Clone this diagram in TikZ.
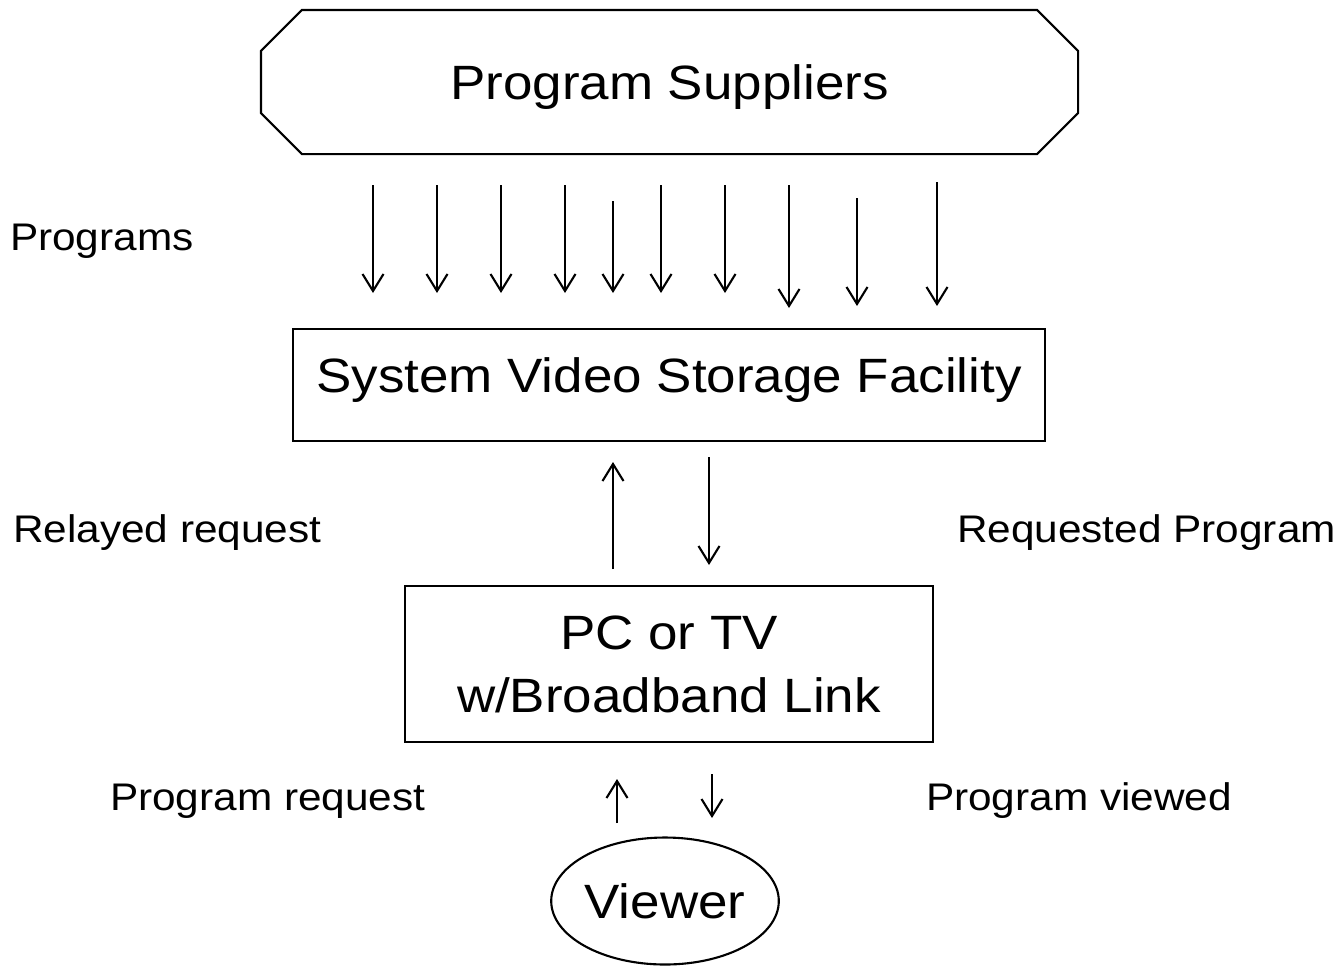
\documentclass[tikz,border=0pt]{standalone}
\usepackage{fontspec}
\setmainfont{Liberation Sans}[FakeStretch=1.1]
\usetikzlibrary{arrows.meta,shapes.geometric}

\begin{document}
\begin{tikzpicture}[line width=0.6pt,
  arr/.style={-{Straight Barb[length=1.7mm,width=2.1mm]}},
  bigtext/.style={font=\fontsize{13.7}{17.9}\selectfont},
  lbl/.style={font=\fontsize{10.95}{13}\selectfont, anchor=base west, inner sep=0}]
\useasboundingbox (0,0) rectangle (13.43,9.66);

\node[bigtext, minimum width=8.15cm, minimum height=1.42cm, text depth=0pt] (supp) at (6.695,8.84) {Program Suppliers};
\draw ([xshift=0.41cm]supp.north west) -- ([xshift=-0.41cm]supp.north east)
  -- ([yshift=-0.41cm]supp.north east) -- ([yshift=0.41cm]supp.south east)
  -- ([xshift=-0.41cm]supp.south east) -- ([xshift=0.41cm]supp.south west)
  -- ([yshift=0.41cm]supp.south west) -- ([yshift=-0.41cm]supp.north west) -- cycle;

\node[draw, bigtext, text height=0.35cm, text depth=0.21cm, minimum width=7.52cm, minimum height=1.12cm] (svsf) at (6.69,5.81) {System Video Storage Facility};
\node[draw, bigtext, align=center, minimum width=5.28cm, minimum height=1.56cm] (pc) at (6.69,3.02) {PC or TV\\w/Broadband Link};
\node[draw, ellipse, bigtext, inner sep=0, minimum width=2.24cm, minimum height=1.27cm] (viewer) at (6.65,0.65) {Viewer};

\node[lbl] (progs) at (0.09,7.16) {Programs};
\node[lbl] (relay) at (0.12,4.24) {Relayed request};
\node[lbl] (reqprog) at (9.56,4.24) {Requested Program};
\node[lbl] (progreq) at (1.09,1.56) {Program request};
\node[lbl] (viewed) at (9.25,1.56) {Program viewed};

% programs coming down from the suppliers
\foreach \x/\a/\b [count=\i] in {3.73/7.81/6.73, 4.37/7.81/6.73, 5.01/7.81/6.73,
    5.65/7.81/6.73, 6.13/7.65/6.73, 6.61/7.81/6.73, 7.25/7.81/6.73,
    7.89/7.81/6.58, 8.57/7.68/6.60, 9.37/7.84/6.60} {
  \coordinate (s\i) at (\x,\a);
  \coordinate (e\i) at (\x,\b);
  \draw[arr] (s\i) -- (e\i);
}

% request / program between storage and PC
\coordinate (relayA) at (6.13,3.97);
\coordinate (relayB) at (6.13,5.04);
\coordinate (sendA) at (7.09,5.09);
\coordinate (sendB) at (7.09,4.01);
\draw[arr] (relayA) -- (relayB);
\draw[arr] (sendA) -- (sendB);

% viewer and PC
\coordinate (askA) at (6.17,1.43);
\coordinate (askB) at (6.17,1.87);
\coordinate (showA) at (7.12,1.92);
\coordinate (showB) at (7.12,1.48);
\draw[arr] (askA) -- (askB);
\draw[arr] (showA) -- (showB);
\end{tikzpicture}
\end{document}
